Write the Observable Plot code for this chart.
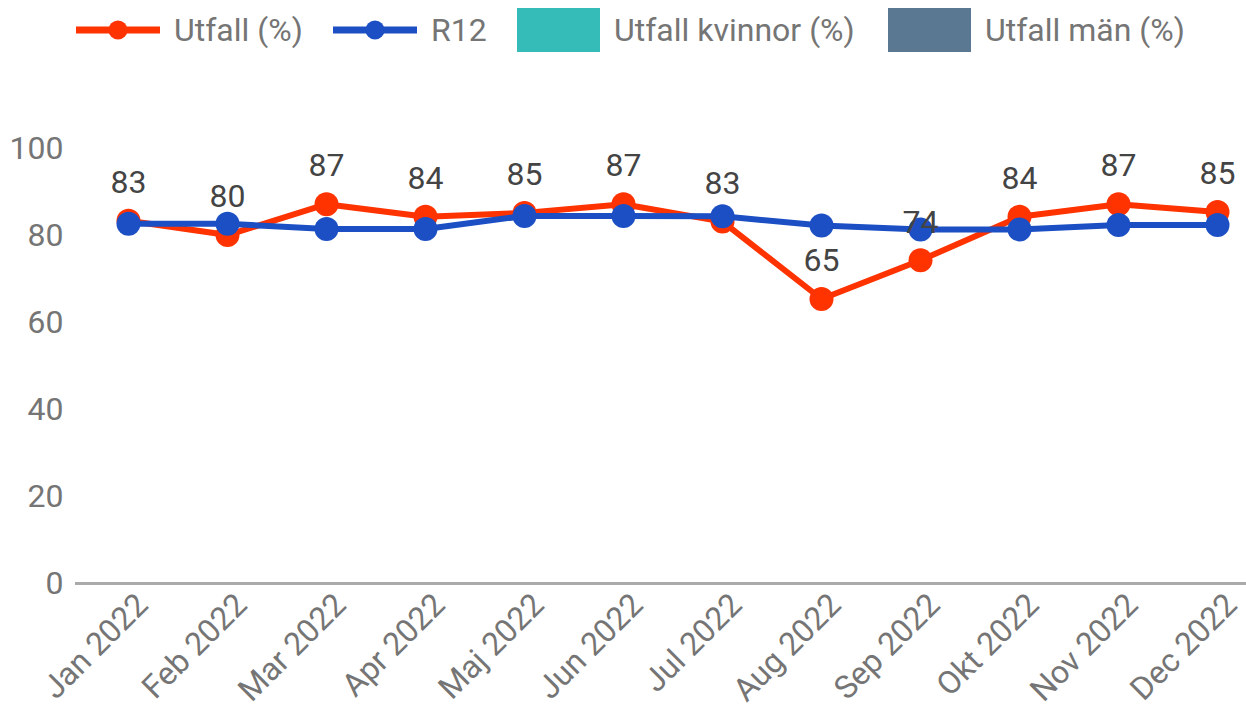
<!DOCTYPE html>
<html>
<head>
<meta charset="utf-8">
<script src="https://cdn.jsdelivr.net/npm/d3@7"></script>
<script src="https://cdn.jsdelivr.net/npm/@observablehq/plot@0.6"></script>
<style>
  html, body { margin: 0; padding: 0; background: #fff; }
  body { width: 1246px; height: 709px; overflow: hidden; font-family: Roboto, sans-serif; }
  #legend { position: relative; height: 60px; width: 1246px; color: #757575; font-size: 32px; }
  #legend .item { position: absolute; top: 0; height: 60px; display: flex; align-items: center; }
  #legend svg { display: block; }
  #chart svg { display: block; }
</style>
</head>
<body>
<div id="legend"></div>
<div id="chart"></div>
<script>
const months = ["Jan 2022", "Feb 2022", "Mar 2022", "Apr 2022", "Maj 2022", "Jun 2022",
                "Jul 2022", "Aug 2022", "Sep 2022", "Okt 2022", "Nov 2022", "Dec 2022"];
const utfall = [83.4, 80.1, 87.2, 84.3, 85.2, 87.2, 83.2, 65.4, 74.3, 84.3, 87.2, 85.4];
const r12 = [82.7, 82.7, 81.5, 81.5, 84.5, 84.5, 84.4, 82.3, 81.4, 81.4, 82.4, 82.4];
const yTicks = [0, 20, 40, 60, 80, 100];
const seriesNames = ["Utfall (%)", "R12", "Utfall kvinnor (%)", "Utfall män (%)"];
const seriesColors = ["#ff3300", "#1c4fc3", "#36bcb8", "#5a7891"];

const utfallData = months.map((m, i) => ({month: m, value: utfall[i]}));
const r12Data = months.map((m, i) => ({month: m, value: r12[i]}));

// Legend
const legend = document.getElementById("legend");
const legendX = [76, 333, 517, 888];
seriesNames.forEach((name, i) => {
  const item = document.createElement("div");
  item.className = "item";
  item.style.left = legendX[i] + "px";
  if (i < 2) {
    item.innerHTML = `<svg width="84" height="30"><line x1="0" x2="84" y1="15" y2="15" stroke="${seriesColors[i]}" stroke-width="7"/><circle cx="42" cy="15" r="9.5" fill="${seriesColors[i]}"/></svg><span style="margin-left:14px">${name}</span>`;
  } else {
    item.innerHTML = `<svg width="83" height="44"><rect x="0" y="0" width="83" height="44" fill="${seriesColors[i]}"/></svg><span style="margin-left:14px">${name}</span>`;
  }
  legend.appendChild(item);
});

const chart = Plot.plot({
  width: 1246,
  height: 649,
  marginTop: 88,
  marginBottom: 126,
  marginLeft: 75,
  marginRight: 0,
  style: {fontFamily: "Roboto, sans-serif", background: "transparent"},
  x: {type: "point", domain: months, padding: 0, insetLeft: 51, insetRight: 27},
  y: {domain: [0, 100], ticks: yTicks},
  marks: [
    Plot.axisY(yTicks, {tickSize: 0, tickPadding: 12, fontSize: 32, fill: "#757575", label: null}),
    Plot.axisX({tickSize: 0, tickRotate: -45, tickPadding: 16, fontSize: 32, fill: "#757575", label: null, dx: 14}),
    Plot.ruleY([0], {stroke: "#aaaaaa", strokeWidth: 3}),
    Plot.line(utfallData, {x: "month", y: "value", stroke: seriesColors[0], strokeWidth: 6}),
    Plot.dot(utfallData, {x: "month", y: "value", r: 12, fill: seriesColors[0]}),
    Plot.line(r12Data, {x: "month", y: "value", stroke: seriesColors[1], strokeWidth: 6}),
    Plot.dot(r12Data, {x: "month", y: "value", r: 12, fill: seriesColors[1]}),
    Plot.text(utfallData, {x: "month", y: "value", text: d => String(Math.round(d.value)), dy: -38, fontSize: 32, fill: "#444444"})
  ]
});
document.getElementById("chart").appendChild(chart);
</script>
</body>
</html>
